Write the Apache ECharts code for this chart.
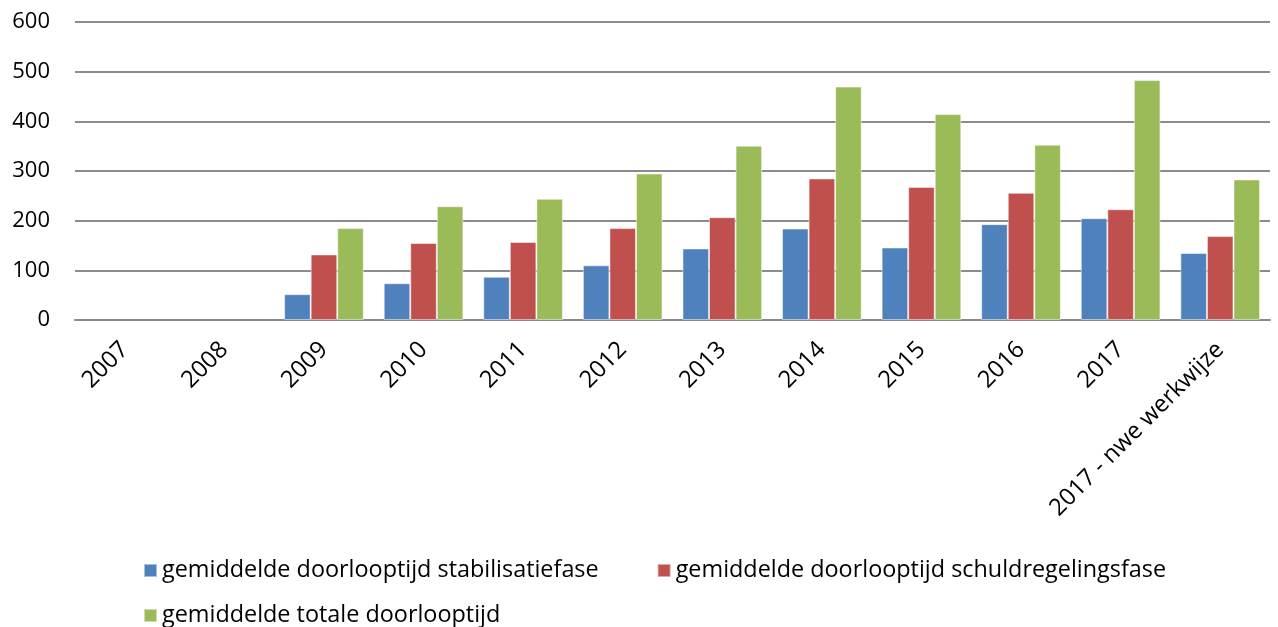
<!DOCTYPE html>
<html><head><meta charset="utf-8">
<script src="https://cdn.jsdelivr.net/npm/echarts@6/dist/echarts.min.js"></script>
<style>html,body{margin:0;padding:0;background:#fff}#c{width:1278px;height:627px}</style>
</head><body><div id="c"></div>
<script>
const categories = ['2007','2008','2009','2010','2011','2012','2013','2014','2015','2016','2017','2017 - nwe werkwijze'];
const seriesNames = ['gemiddelde doorlooptijd stabilisatiefase','gemiddelde doorlooptijd schuldregelingsfase','gemiddelde totale doorlooptijd'];
const stabilisatie = [null,null,52,74,87,110,144,184,146,193,205,135];
const schuldregeling = [null,null,132,155,157,185,207,285,268,256,223,169];
const totaal = [null,null,185,229,244,295,351,470,415,353,483,283];
const yTicks = {min:0,max:600,interval:100};
const colors = ['#4F81BD','#C0504D','#9BBB59'];
const font = 'Open Sans';
const chart = echarts.init(document.getElementById('c'));
const mk = (name,data,i)=>({name,type:'bar',data,barGap:'0%',barCategoryGap:'20%',
  itemStyle:{color:colors[i],borderColor:'rgba(255,255,255,0.5)',borderWidth:1}});
chart.setOption({
  animation:false,
  grid:{left:75,right:8,top:22,bottom:307,containLabel:false},
  xAxis:{type:'category',data:categories,
    axisLine:{lineStyle:{color:'#888',width:2}},axisTick:{show:false},
    axisLabel:{rotate:45,fontFamily:font,fontSize:23.7,color:'#000',interval:0,margin:26}},
  yAxis:{type:'value',min:yTicks.min,max:yTicks.max,interval:yTicks.interval,
    axisLine:{show:false},axisTick:{show:false},
    splitLine:{lineStyle:{color:'#8c8c8c',width:2}},
    axisLabel:{fontFamily:font,fontSize:22,color:'#000',margin:25}},
  legend:[
    {data:seriesNames.slice(0,2),left:138,top:554,itemWidth:13,itemHeight:13,itemGap:58,icon:'rect',
     textStyle:{fontFamily:font,fontSize:23.4,color:'#000'}},
    {data:seriesNames.slice(2),left:138,top:599,itemWidth:13,itemHeight:13,icon:'rect',
     textStyle:{fontFamily:font,fontSize:23.4,color:'#000'}}
  ],
  series:[mk(seriesNames[0],stabilisatie,0),mk(seriesNames[1],schuldregeling,1),mk(seriesNames[2],totaal,2)]
});
</script></body></html>
